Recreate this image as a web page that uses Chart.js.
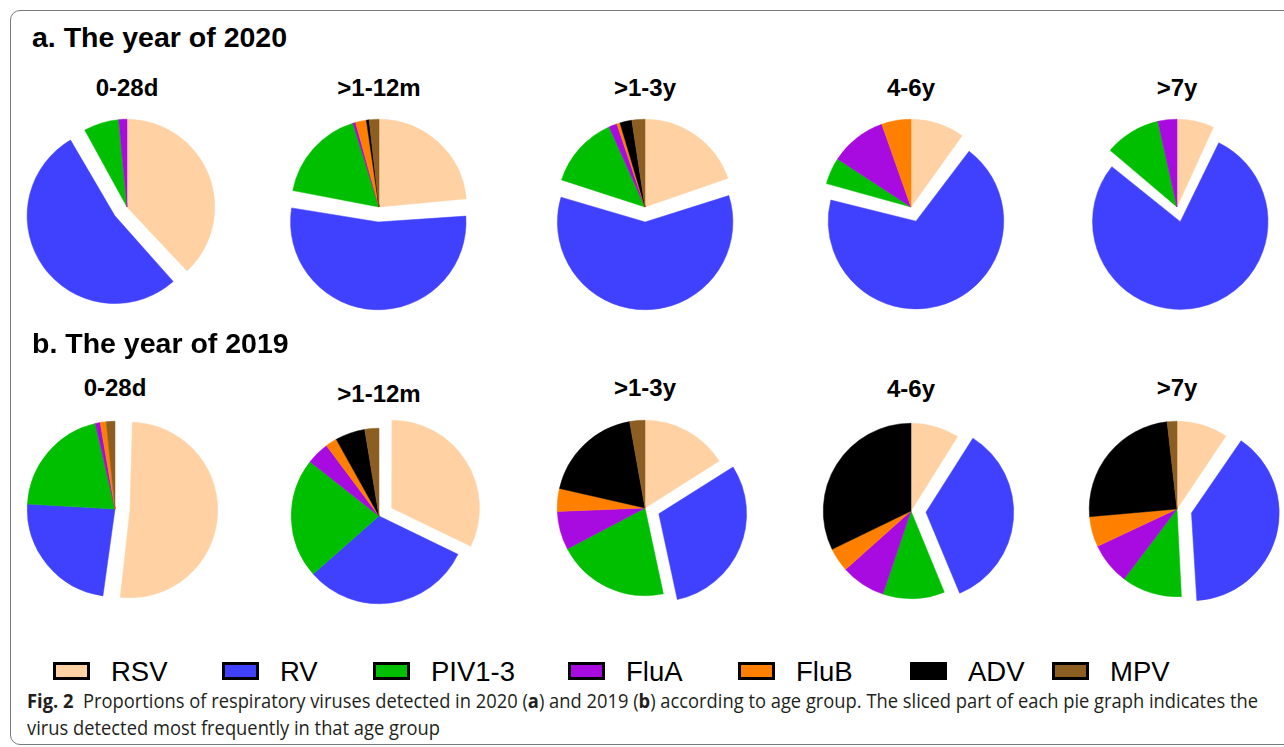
<!DOCTYPE html>
<html>
<head>
<meta charset="utf-8">
<script src="https://cdn.jsdelivr.net/npm/chart.js@4/dist/chart.umd.min.js"></script>
<style>
  html, body { margin: 0; padding: 0; background: #fff; }
  body { width: 1284px; height: 747px; position: relative; overflow: hidden; font-family: "Liberation Sans", Arial, sans-serif; }
  .frame { position: absolute; left: 10px; top: 10px; width: 1300px; height: 733px; border: 1.5px solid #7a7a7a; border-radius: 10px; }
  .title { position: absolute; left: 32px; font-weight: bold; font-size: 28.5px; line-height: 1; color: #000; white-space: nowrap; }
  .sub { position: absolute; width: 200px; text-align: center; font-weight: bold; font-size: 24px; line-height: 1; color: #000; white-space: nowrap; }
  .pie { position: absolute; width: 260px; height: 260px; }
  .leg-box { position: absolute; width: 31px; height: 12px; border: 3px solid #000; }
  .leg-text { position: absolute; font-size: 27.5px; line-height: 1; color: #000; white-space: nowrap; }
  .cap { position: absolute; left: 27px; font-family: "Open Sans", "Noto Sans", sans-serif; font-size: 20px; line-height: 1; color: #231f20; white-space: nowrap; transform-origin: 0 0; }
</style>
</head>
<body>
<div class="frame"></div>
<div id="root"></div>
<script>
// virus categories and colours
var viruses = ['RSV', 'RV', 'PIV1-3', 'FluA', 'FluB', 'ADV', 'MPV'];
var virusColors = ['#FFD1A3', '#4040FF', '#00BF00', '#A80BE0', '#FF8000', '#000000', '#8C5E22'];
var ageGroups = ['0-28d', '>1-12m', '>1-3y', '4-6y', '>7y'];

// a. The year of 2020 (% of detections per age group)
var y2020_0_28d = [38.0, 54.0, 6.5, 1.5, 0, 0, 0];
var y2020_1_12m = [23.5, 54.5, 17.2, 0.5, 2.0, 0.5, 1.8];
var y2020_1_3y  = [19.7, 60.3, 13.3, 1.5, 0.6, 2.2, 2.4];
var y2020_4_6y  = [9.9, 69.4, 4.9, 10.4, 5.4, 0, 0];
var y2020_7y    = [6.8, 79.4, 10.3, 3.5, 0, 0, 0];

// b. The year of 2019
var y2019_0_28d = [52.2, 23.7, 20.5, 0.9, 1.1, 0, 1.6];
var y2019_1_12m = [32.2, 31.3, 22.1, 4.2, 2.1, 5.5, 2.6];
var y2019_1_3y  = [16.0, 30.6, 20.6, 7.1, 4.2, 18.6, 2.8];
var y2019_4_6y  = [8.9, 34.9, 11.4, 8.2, 4.4, 32.2, 0];
var y2019_7y    = [9.4, 39.8, 11.1, 7.7, 5.6, 24.6, 1.8];

var rows = [
    { title: 'a. The year of 2020', titleTop: 23, subTops: [76, 76, 76, 76, 76],
      centers: [[127, 207], [379, 207], [645, 207], [911, 207], [1177, 207]],
      data: [y2020_0_28d, y2020_1_12m, y2020_1_3y, y2020_4_6y, y2020_7y] },
    { title: 'b. The year of 2019', titleTop: 329, subTops: [376, 382, 376, 377, 376],
      centers: [[115, 509], [379, 516], [645, 508], [911, 511], [1177, 509]],
      data: [y2019_0_28d, y2019_1_12m, y2019_1_3y, y2019_4_6y, y2019_7y] }
];

var EXPLODE = 60; // chart.js moves an arc by offset / 4

// chart.js also grows an offset arc's radius; keep the sliced part the same size as the rest
var sameRadius = {
    id: 'sameRadius',
    beforeDatasetDraw: function (chart, args) {
        var ctrl = args.meta.controller;
        args.meta.data.forEach(function (arc) {
            var off = (arc.options.offset || 0) / 4;
            var fix = 1 - Math.sin(Math.min(Math.PI, arc.circumference || 0));
            arc.outerRadius = ctrl.outerRadius - off * fix;
        });
    }
};

var root = document.getElementById('root');

function addDiv(cls, text, left, top) {
    var d = document.createElement('div');
    d.className = cls;
    d.textContent = text;
    d.style.left = left + 'px';
    d.style.top = top + 'px';
    root.appendChild(d);
    return d;
}

rows.forEach(function (row) {
    addDiv('title', row.title, 32, row.titleTop);
    row.data.forEach(function (values, i) {
        var cx = row.centers[i][0], cy = row.centers[i][1];
        addDiv('sub', ageGroups[i], cx - 100, row.subTops[i]);

        var canvas = document.createElement('canvas');
        canvas.className = 'pie';
        canvas.width = 260;
        canvas.height = 260;
        canvas.style.left = (cx - 130) + 'px';
        canvas.style.top = (cy - 130) + 'px';
        root.appendChild(canvas);

        // the most frequent virus is sliced out
        var maxIdx = values.indexOf(Math.max.apply(null, values));
        var offsets = values.map(function (v, k) { return k === maxIdx ? EXPLODE : 0; });

        new Chart(canvas.getContext('2d'), {
            type: 'pie',
            data: {
                labels: viruses,
                datasets: [{
                    data: values,
                    backgroundColor: virusColors,
                    borderColor: virusColors,
                    borderWidth: 0.5,
                    offset: offsets,
                    hoverOffset: 0
                }]
            },
            options: {
                responsive: false,
                animation: false,
                layout: { padding: 12 },
                plugins: { legend: { display: false }, tooltip: { enabled: false } }
            },
            plugins: [sameRadius]
        });
    });
});

// legend
var legendX = [53, 222, 373, 568, 738, 910, 1052];
viruses.forEach(function (name, i) {
    var b = document.createElement('div');
    b.className = 'leg-box';
    b.style.left = legendX[i] + 'px';
    b.style.top = '662px';
    b.style.background = virusColors[i];
    root.appendChild(b);
    addDiv('leg-text', name, legendX[i] + 58, 658);
});

// caption
var cap1 = document.createElement('div');
cap1.className = 'cap';
cap1.style.top = '691px';
cap1.innerHTML = '<b>Fig. 2</b>&nbsp; Proportions of respiratory viruses detected in 2020 (<b>a</b>) and 2019 (<b>b</b>) according to age group. The sliced part of each pie graph indicates the';
root.appendChild(cap1);
var cap2 = document.createElement('div');
cap2.className = 'cap';
cap2.style.top = '718px';
cap2.textContent = 'virus detected most frequently in that age group';
root.appendChild(cap2);
var sx = 1231 / cap1.getBoundingClientRect().width;
cap1.style.transform = 'scaleX(' + sx + ')';
cap2.style.transform = 'scaleX(' + sx + ')';
</script>
</body>
</html>
